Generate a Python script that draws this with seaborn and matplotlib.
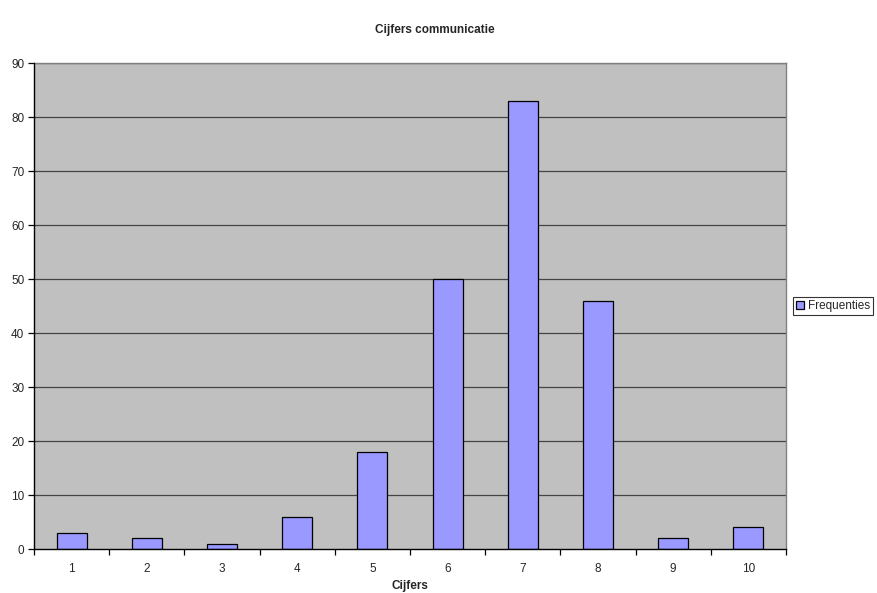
import matplotlib
matplotlib.use("Agg")
import matplotlib.pyplot as plt
import seaborn as sns
import pandas as pd

categories = ["1", "2", "3", "4", "5", "6", "7", "8", "9", "10"]
frequenties = [3, 2, 1, 6, 18, 50, 83, 46, 2, 4]
y_ticks = [0, 10, 20, 30, 40, 50, 60, 70, 80, 90]

sns.set_style("white")
plt.rcParams['font.family'] = ['Liberation Sans', 'DejaVu Sans']

df = pd.DataFrame({"Cijfers": categories, "Frequenties": frequenties, "serie": "Frequenties"})

fig = plt.figure(figsize=(8.77, 5.93), dpi=100)
ax = fig.add_axes([34/877, 44/593, (786-34)/877, (549-63)/593])
ax.set_facecolor("#C0C0C0")

sns.barplot(data=df, x="Cijfers", y="Frequenties", hue="serie", palette=["#9999FF"],
            saturation=1, width=0.4, edgecolor="black", linewidth=0.9, ax=ax, zorder=3)

ax.set_ylim(0, 90)
ax.set_xlim(-0.5, 9.5)
ax.set_yticks(y_ticks)
ax.set_yticklabels([str(v) for v in y_ticks], fontsize=8.5)
for v in y_ticks[1:]:
    ax.axhline(v, color="#444444", linewidth=0.9, zorder=1)

ax.set_xticks(range(len(categories)))
ax.set_xticklabels(categories, fontsize=8.5)
ax.tick_params(axis="x", length=0, pad=10)
ax.set_xticks([i + 0.5 for i in range(-1, 10)], minor=True)
ax.tick_params(axis="x", which="minor", length=4, direction="out", color="black", width=0.9, bottom=True)
ax.tick_params(axis="y", length=4, direction="out", color="black", width=0.9, left=True, pad=3)

for side in ["left", "bottom"]:
    ax.spines[side].set_color("black")
    ax.spines[side].set_linewidth(1.0)
    ax.spines[side].set_zorder(5)
for side in ["top", "right"]:
    ax.spines[side].set_color("#808080")
    ax.spines[side].set_linewidth(1.0)

ax.set_xlabel("Cijfers", fontsize=8.5, fontweight="bold", labelpad=4)
ax.set_ylabel("")
fig.suptitle("Cijfers communicatie", fontsize=8.5, fontweight="bold", x=435/877, y=1 - 30/593, va="center")

leg = ax.legend(loc="center left", bbox_to_anchor=(1.009, 0.5), fontsize=8.5, frameon=True,
                fancybox=False, edgecolor="black", handlelength=0.7, handleheight=0.7,
                handletextpad=0.3, borderpad=0.25, borderaxespad=0)
leg.get_frame().set_linewidth(0.8)

fig.savefig("out.png", dpi=100)
